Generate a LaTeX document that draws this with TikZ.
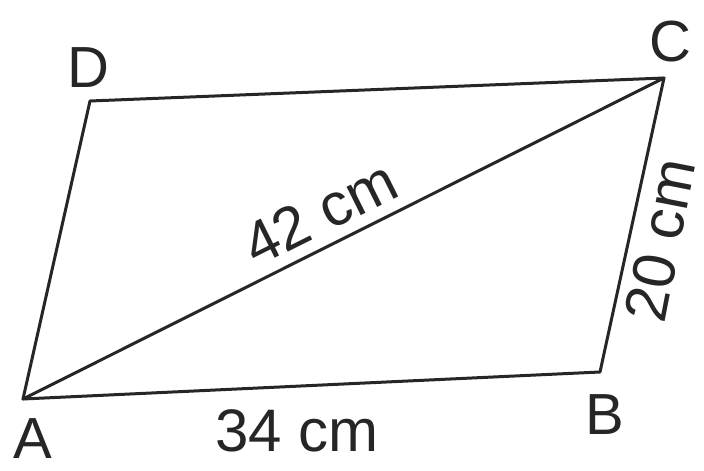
\documentclass[tikz,border=0pt]{standalone}
\usepackage{fontspec}
\setmainfont{Liberation Sans}
\begin{document}
\begin{tikzpicture}[x=1pt,y=-1pt,
  edge/.style={line width=3pt,line join=round,line cap=round,draw=black!85},
  lbl/.style={font=\fontsize{58}{58}\selectfont,text=black!85,inner sep=0pt},
  meas/.style={font=\fontsize{60}{60}\selectfont,text=black!85,inner sep=0pt}]
\useasboundingbox (0,0) rectangle (704,471);
\coordinate (A) at (23,399);
\coordinate (B) at (600,372);
\coordinate (C) at (664,78);
\coordinate (D) at (90,101);
\draw[edge] (A) -- (B) -- (C) -- (D) -- cycle;
\draw[edge] (A) -- (C);
\node[lbl] (lA) at (33,439) {A};
\node[lbl] (lB) at (605,415) {B};
\node[lbl] (lC) at (670,42) {C};
\node[lbl] (lD) at (88,68) {D};
\node[meas,rotate=26.5] (d) at (320,213) {42 cm};
\node[meas] (ab) at (297,431) {34 cm};
\node[meas,rotate=79] (bc) at (660,240) {20 cm};
\end{tikzpicture}
\end{document}
